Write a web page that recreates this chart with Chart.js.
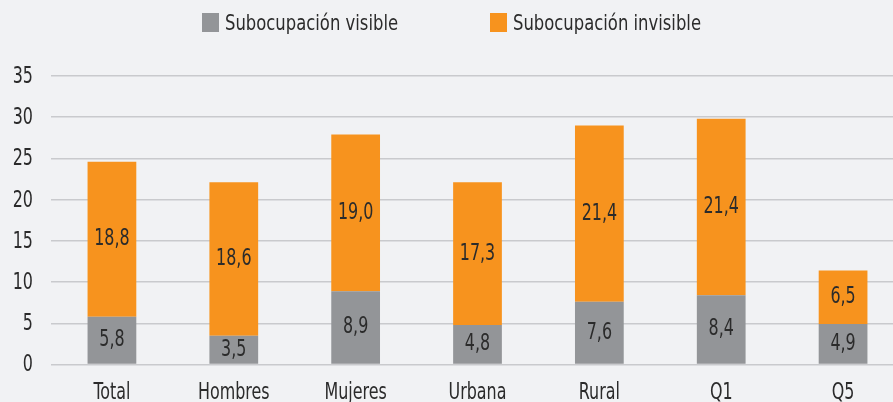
<!DOCTYPE html>
<html>
<head>
<meta charset="utf-8">
<script src="https://cdn.jsdelivr.net/npm/chart.js@4/dist/chart.umd.min.js"></script>
<style>
    html, body { margin: 0; padding: 0; background: #f1f2f4; overflow: hidden; }
    #wrap { position: relative; width: 904px; height: 402px; }
    #legend { position: absolute; top: 0; left: 0; font-family: 'DejaVu Sans Condensed', 'DejaVu Sans', sans-serif; font-size: 22px; color: #2b2b2b; }
    .legend-item { position: absolute; top: 13px; display: flex; align-items: center; white-space: nowrap; }
    .legend-color { width: 17px; height: 19px; margin-right: 6px; flex: none; }
    .legend-text { display: inline-block; transform: scaleX(0.83); transform-origin: left center; line-height: 19px; }
</style>
</head>
<body>
<div id="wrap">
    <div id="legend"></div>
    <canvas id="chart" width="904" height="402"></canvas>
</div>
<script>
// Chart data
const categories = ['Total', 'Hombres', 'Mujeres', 'Urbana', 'Rural', 'Q1', 'Q5'];
const visible = [5.8, 3.5, 8.9, 4.8, 7.6, 8.4, 4.9];
const invisible = [18.8, 18.6, 19.0, 17.3, 21.4, 21.4, 6.5];
const yTicks = [0, 5, 10, 15, 20, 25, 30, 35];

const fontFamily = "'DejaVu Sans Condensed', 'DejaVu Sans', sans-serif";
const textColor = '#2b2b2b';
const squeeze = 0.77;

// draw text narrower than the installed fonts allow
function narrowText(ctx, text, x, y, align) {
    ctx.save();
    ctx.translate(x, y);
    ctx.scale(squeeze, 1);
    ctx.textAlign = align;
    ctx.fillText(text, 0, 0);
    ctx.restore();
}

// value labels inside each bar segment
const segmentLabels = {
    id: 'segmentLabels',
    afterDatasetsDraw(chart) {
        const ctx = chart.ctx;
        ctx.save();
        ctx.font = '23px ' + fontFamily;
        ctx.fillStyle = textColor;
        ctx.textBaseline = 'middle';
        chart.data.datasets.forEach((ds, i) => {
            chart.getDatasetMeta(i).data.forEach((bar, j) => {
                const mid = (bar.y + bar.base) / 2;
                narrowText(ctx, ds.data[j].toFixed(1).replace('.', ','), bar.x, mid, 'center');
            });
        });
        ctx.restore();
    }
};

// axis labels, drawn from the chart's own scales
const axisLabels = {
    id: 'axisLabels',
    afterDraw(chart) {
        const ctx = chart.ctx;
        const xs = chart.scales.x, ys = chart.scales.y;
        ctx.save();
        ctx.font = '23px ' + fontFamily;
        ctx.fillStyle = textColor;
        ctx.textBaseline = 'middle';
        yTicks.forEach(v => narrowText(ctx, String(v), 33, ys.getPixelForValue(v) + 1, 'right'));
        ctx.textBaseline = 'alphabetic';
        categories.forEach((c, i) => narrowText(ctx, c, xs.getPixelForValue(i), 399, 'center'));
        ctx.restore();
    }
};

const chart = new Chart(document.getElementById('chart'), {
    type: 'bar',
    data: {
        labels: categories,
        datasets: [
            { label: 'Subocupación visible', data: visible, backgroundColor: '#939598' },
            { label: 'Subocupación invisible', data: invisible, backgroundColor: '#f7931e' }
        ]
    },
    options: {
        responsive: false,
        animation: false,
        layout: { padding: { top: 76, right: 0, left: 0, bottom: 0 } },
        datasets: { bar: { barPercentage: 0.8, categoryPercentage: 0.5 } },
        plugins: { legend: { display: false }, tooltip: { enabled: false } },
        scales: {
            x: {
                stacked: true,
                grid: { display: false },
                border: { display: false },
                ticks: { display: false },
                afterFit: (axis) => { axis.height = 37.5; }
            },
            y: {
                stacked: true,
                min: 0,
                max: 35,
                afterBuildTicks: (axis) => { axis.ticks = yTicks.map(v => ({ value: v })); },
                grid: { color: '#c9cacd', lineWidth: 1.5, drawTicks: false },
                border: { display: false },
                ticks: { display: false },
                afterFit: (axis) => { axis.width = 51; }
            }
        }
    },
    plugins: [segmentLabels, axisLabels]
});

// HTML legend built from the datasets
const legendLeft = [202, 490];
document.getElementById('legend').innerHTML = chart.data.datasets.map((ds, i) =>
    `<div class="legend-item" style="left: ${legendLeft[i]}px;"><div class="legend-color" style="background-color: ${ds.backgroundColor};"></div><span class="legend-text">${ds.label}</span></div>`
).join('');
</script>
</body>
</html>
